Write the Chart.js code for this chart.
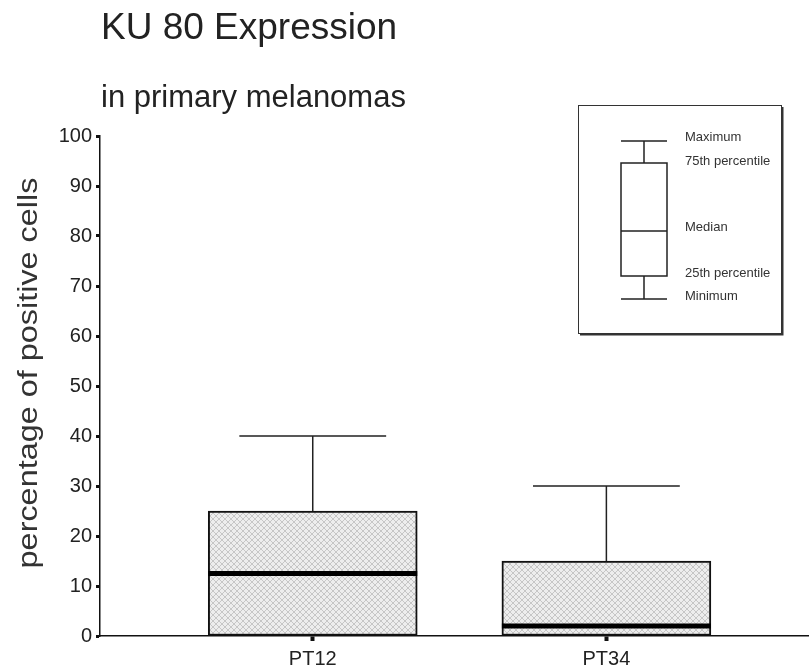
<!DOCTYPE html>
<html>
<head>
<meta charset="utf-8">
<script src="https://cdn.jsdelivr.net/npm/chart.js@4.4.1/dist/chart.umd.min.js"></script>
<style>
  html, body { margin: 0; padding: 0; background: #fff; }
  #wrap { width: 809px; height: 669px; }
</style>
</head>
<body>
<div id="wrap"><canvas id="boxChart"></canvas></div>
<script>
// KU 80 box plot values (percentage of positive cells)
const categories = ["PT12", "PT34"];
const minimum = [0, 0];
const q1 = [0, 0];
const median = [12.5, 2];
const q3 = [25, 15];
const maximum = [40, 30];
const yTicks = [0, 10, 20, 30, 40, 50, 60, 70, 80, 90, 100];

const FONT = "'Liberation Sans', Arial, sans-serif";

// light grey cross-hatch used for the boxes
function makeHatch() {
  const c = document.createElement("canvas");
  c.width = 6;
  c.height = 6;
  const g = c.getContext("2d");
  g.fillStyle = "#ededed";
  g.fillRect(0, 0, 6, 6);
  g.strokeStyle = "#c6c6c6";
  g.lineWidth = 1;
  g.beginPath();
  g.moveTo(0, 0); g.lineTo(6, 6);
  g.moveTo(6, 0); g.lineTo(0, 6);
  g.stroke();
  return g.createPattern(c, "repeat");
}

// whiskers + median lines
const boxExtras = {
  id: "boxExtras",
  afterDatasetsDraw(chart) {
    const ctx = chart.ctx;
    const xs = chart.scales.x;
    const ys = chart.scales.y;
    const meta = chart.getDatasetMeta(0);
    ctx.save();
    categories.forEach((c, i) => {
      const xc = xs.getPixelForValue(i + 1);
      const capL = xs.getPixelForValue(i + 1 - 0.25);
      const capR = xs.getPixelForValue(i + 1 + 0.25);
      ctx.strokeStyle = "#222";
      ctx.lineWidth = 1.5;
      ctx.beginPath();
      ctx.moveTo(xc, ys.getPixelForValue(q3[i]));
      ctx.lineTo(xc, ys.getPixelForValue(maximum[i]));
      ctx.moveTo(capL, ys.getPixelForValue(maximum[i]));
      ctx.lineTo(capR, ys.getPixelForValue(maximum[i]));
      if (minimum[i] < q1[i]) {
        ctx.moveTo(xc, ys.getPixelForValue(q1[i]));
        ctx.lineTo(xc, ys.getPixelForValue(minimum[i]));
        ctx.moveTo(capL, ys.getPixelForValue(minimum[i]));
        ctx.lineTo(capR, ys.getPixelForValue(minimum[i]));
      }
      ctx.stroke();

      const bar = meta.data[i].getProps(["x", "width"], true);
      const ym = ys.getPixelForValue(median[i]);
      ctx.strokeStyle = "#000";
      ctx.lineWidth = 5;
      ctx.beginPath();
      ctx.moveTo(bar.x - bar.width / 2, ym);
      ctx.lineTo(bar.x + bar.width / 2, ym);
      ctx.stroke();
    });
    ctx.restore();
  }
};

// headings, y-axis caption and the key box in the upper right
const decor = {
  id: "decor",
  afterDraw(chart) {
    const ctx = chart.ctx;
    ctx.save();
    ctx.fillStyle = "#222";
    ctx.textAlign = "left";
    ctx.textBaseline = "alphabetic";
    ctx.font = "37px " + FONT;
    ctx.fillText("KU 80 Expression", 101, 39);
    ctx.font = "31px " + FONT;
    ctx.fillText("in primary melanomas", 101, 107);

    // axis caption, slightly wide-set
    ctx.save();
    ctx.translate(30, 373);
    ctx.rotate(-Math.PI / 2);
    ctx.scale(1.2, 1);
    ctx.fillStyle = "#333";
    ctx.font = "27px " + FONT;
    ctx.textAlign = "center";
    ctx.textBaseline = "middle";
    ctx.fillText("percentage of positive cells", 0, 0);
    ctx.restore();

    // key
    const kx = 578, ky = 105, kw = 203, kh = 228;
    ctx.strokeStyle = "#333";
    ctx.lineWidth = 1;
    ctx.strokeRect(kx + 0.5, ky + 0.5, kw, kh);
    ctx.lineWidth = 2;
    ctx.beginPath();
    ctx.moveTo(kx + 2, ky + kh + 1.5);
    ctx.lineTo(kx + kw + 1.5, ky + kh + 1.5);
    ctx.lineTo(kx + kw + 1.5, ky + 2);
    ctx.stroke();

    const bl = 621, br = 667, bc = 644;
    const yMax = 141, yQ3 = 163, yMed = 231, yQ1 = 276, yMin = 299;
    ctx.strokeStyle = "#222";
    ctx.lineWidth = 1.5;
    ctx.beginPath();
    ctx.moveTo(bl, yMax); ctx.lineTo(br, yMax);
    ctx.moveTo(bc, yMax); ctx.lineTo(bc, yQ3);
    ctx.moveTo(bl, yMed); ctx.lineTo(br, yMed);
    ctx.moveTo(bc, yQ1); ctx.lineTo(bc, yMin);
    ctx.moveTo(bl, yMin); ctx.lineTo(br, yMin);
    ctx.stroke();
    ctx.strokeRect(bl, yQ3, br - bl, yQ1 - yQ3);

    ctx.fillStyle = "#333";
    ctx.font = "13px " + FONT;
    ctx.textBaseline = "middle";
    ctx.fillText("Maximum", 685, 137);
    ctx.fillText("75th percentile", 685, 161);
    ctx.fillText("Median", 685, 227);
    ctx.fillText("25th percentile", 685, 273);
    ctx.fillText("Minimum", 685, 296);
    ctx.restore();
  }
};

const ctx = document.getElementById("boxChart").getContext("2d");
new Chart(ctx, {
  type: "bar",
  data: {
    datasets: [
      {
        data: categories.map((c, i) => ({ x: i + 1, y: [q1[i], q3[i]] })),
        backgroundColor: makeHatch(),
        borderColor: "#111",
        borderWidth: 2,
        borderSkipped: false,
        barThickness: 209
      }
    ]
  },
  options: {
    responsive: true,
    maintainAspectRatio: false,
    animation: false,
    layout: { padding: { top: 136, right: 0, left: 0, bottom: 0 } },
    plugins: {
      legend: { display: false },
      tooltip: { enabled: false }
    },
    scales: {
      x: {
        type: "linear",
        offset: false,
        min: 0.2755,
        max: 2.69,
        afterBuildTicks: (scale) => {
          scale.ticks = categories.map((c, i) => ({ value: i + 1 }));
        },
        afterFit: (scale) => { scale.height = 33; },
        ticks: {
          callback: (v) => categories[v - 1],
          color: "#222",
          font: { family: FONT, size: 20 },
          padding: 6,
          maxRotation: 0
        },
        grid: {
          offset: false,
          drawOnChartArea: false,
          drawTicks: true,
          tickLength: 5,
          tickWidth: 4,
          color: "#111"
        },
        border: { display: true, color: "#111", width: 1.5 }
      },
      y: {
        min: 0,
        max: 100,
        afterBuildTicks: (scale) => {
          scale.ticks = yTicks.map((v) => ({ value: v }));
        },
        afterFit: (scale) => { scale.width = 100; },
        ticks: {
          color: "#222",
          font: { family: FONT, size: 20 },
          padding: 4
        },
        grid: {
          drawOnChartArea: false,
          drawTicks: true,
          tickLength: 4,
          tickWidth: 3,
          color: "#111"
        },
        border: { display: true, color: "#111", width: 1.5 }
      }
    }
  },
  plugins: [boxExtras, decor]
});
</script>
</body>
</html>
